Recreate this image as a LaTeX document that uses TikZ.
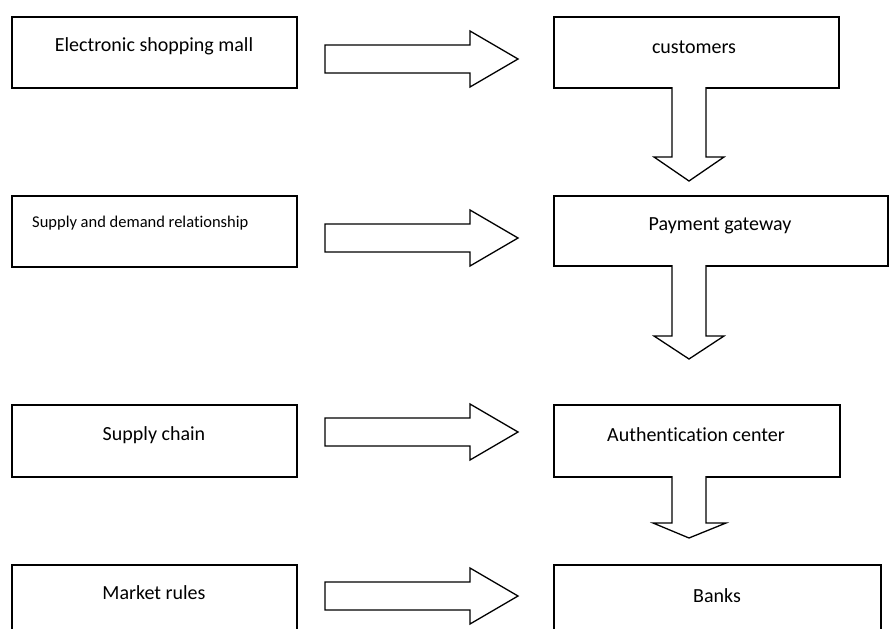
\documentclass[tikz,border=0pt]{standalone}
\usepackage{fontspec}
\setmainfont{Carlito}[Ligatures=NoCommon]
\usetikzlibrary{calc}
\tikzset{
  box/.style={draw=black, line width=1.6pt, fill=white, anchor=north west, inner sep=0pt},
  lbl/.style={font=\fontsize{20}{24}\selectfont, inner sep=0pt},
  slbl/.style={font=\fontsize{16.5}{19}\selectfont, inner sep=0pt, anchor=west},
  blk/.style={draw=black, line width=1.3pt, fill=white, line join=miter},
}
\begin{document}
\begin{tikzpicture}[x=1pt,y=-1pt]
\useasboundingbox (0,0) rectangle (889,629);
\clip (0,0) rectangle (889,629);
% left column
\node[box, minimum width=285pt, minimum height=71pt] (a1) at (11,16) {};
\node[box, minimum width=285pt, minimum height=71pt] (a2) at (11,195) {};
\node[box, minimum width=285pt, minimum height=72pt] (a3) at (11,404) {};
\node[box, minimum width=285pt, minimum height=90pt] (a4) at (11,564) {};
% right column
\node[box, minimum width=285pt, minimum height=71pt] (b1) at (553,16) {};
\node[box, minimum width=334pt, minimum height=70pt] (b2) at (553,195) {};
\node[box, minimum width=286pt, minimum height=72pt] (b3) at (553,404) {};
\node[box, minimum width=327pt, minimum height=90pt] (b4) at (553,564) {};
% labels
\node[lbl] (t1) at (154,46) {Electronic shopping mall};
\node[slbl] (t2) at (32,223) {Supply and demand relationship};
\node[lbl] (t3) at (154,435) {Supply chain};
\node[lbl] (t4) at (154,593) {Market rules};
\node[lbl] (u1) at (694,47) {customers};
\node[lbl] (u2) at (720,226) {Payment gateway};
\node[lbl] (u3) at (696,435) {Authentication center};
\node[lbl] (u4) at (717,596) {Banks};
% horizontal block arrows
\foreach \c in {59,238,432,596}{
  \draw[blk] (325,\c-14) -- (470,\c-14) -- (470,\c-28) -- (518,\c) -- (470,\c+28) -- (470,\c+14) -- (325,\c+14) -- cycle;
}
% vertical block arrows
\draw[blk] (672,87) -- (672,157) -- (654,157) -- (689,181) -- (724,157) -- (706,157) -- (706,87);
\draw[blk] (672,265) -- (672,336) -- (654,336) -- (689,359) -- (724,336) -- (706,336) -- (706,265);
\draw[blk] (672,476) -- (672,523) -- (653,523) -- (689,538) -- (726,523) -- (706,523) -- (706,476);
\end{tikzpicture}
\end{document}
